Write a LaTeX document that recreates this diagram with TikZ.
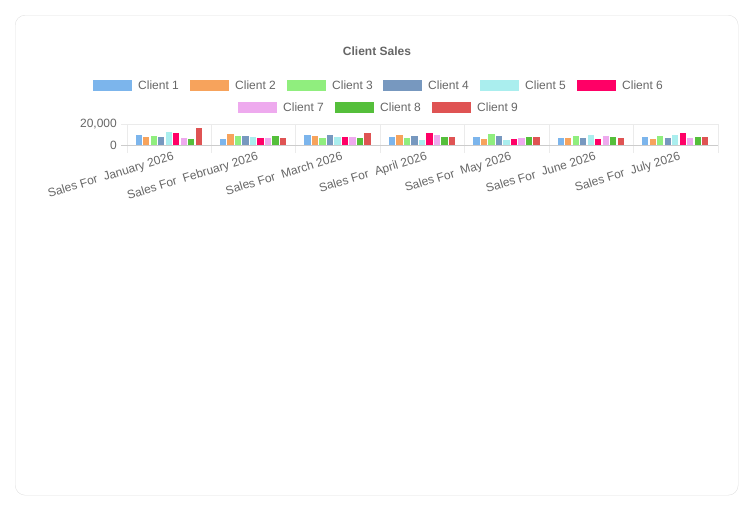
\documentclass[tikz,border=0pt]{standalone}
\usepackage{fontspec}
\setmainfont{Liberation Sans}
\begin{document}
\begin{tikzpicture}[x=1pt,y=-1pt,
  lbl/.style={text=black!60,font=\fontsize{12}{14}\selectfont,inner sep=0pt},
  sw/.style={minimum width=40pt,minimum height=12pt,inner sep=0pt,draw=white,line width=0.5pt},
  grid/.style={draw=black!8,line width=0.8pt}]
\definecolor{c1}{HTML}{7CB5EC}\definecolor{c2}{HTML}{F7A35C}\definecolor{c3}{HTML}{90EE7E}
\definecolor{c4}{HTML}{7798BF}\definecolor{c5}{HTML}{AAEEEE}\definecolor{c6}{HTML}{FF0066}
\definecolor{c7}{HTML}{EEAAEE}\definecolor{c8}{HTML}{55BF3B}\definecolor{c9}{HTML}{DF5353}
\useasboundingbox (0,0) rectangle (754,512);
\node[draw=black!12,rounded corners=10pt,minimum width=723pt,minimum height=480pt,anchor=north west] (card) at (15,15) {};
\node[lbl,font=\bfseries\fontsize{12}{14}\selectfont] (title) at (377,51) {Client Sales};
\foreach \x/\y/\n in {92/85/1,189/85/2,286/85/3,382/85/4,479/85/5,576/85/6,237/107/7,334/107/8,431/107/9}{
  \node[sw,fill=c\n,anchor=west] (s\n) at (\x,\y) {};
  \node[lbl,anchor=west] (l\n) at (\x+46,\y) {Client \n};
}
% grid
\draw[grid] (121,124) -- (718,124);
\foreach \i in {0,...,7}{ \draw[grid] (127+84.43*\i,124) -- (127+84.43*\i,153); }
\draw[black!20,line width=0.8pt] (121,145) -- (718,145);
\node[lbl,anchor=east] (y1) at (117,124) {20,000};
\node[lbl,anchor=east] (y0) at (117,145) {0};
% bars
\foreach \vals [count=\c from 0] in {
 {10,7.5,9,7.5,12,11,7,5.5,16},
 {5.5,10.5,8.5,8.5,7.5,7,7,8.5,6.5},
 {10,9,7,10,7.5,8,7.5,7,11},
 {8,10,7,8.5,5,11,10,8,8},
 {7.5,6,10.5,8.5,5,6,6.5,7.5,8},
 {7,6.5,9,7,9.5,6,8.5,8,6.5},
 {8,5.5,9,7,9.5,11,7,8,8}}{
  \foreach \v [count=\k] in \vals {
    \pgfmathsetmacro{\bx}{127+84.43*\c+8.5+7.5*(\k-1)}
    \fill[c\k] (\bx,145) rectangle (\bx+6.3,145-\v*1.05);
  }
  \node[lbl,anchor=north east,rotate=17] (m\c) at (127+84.43*\c+45,151) {Sales For\ \ \ifcase\c January\or February\or March\or April\or May\or June\or July\fi\ 2026};
}
\end{tikzpicture}
\end{document}
